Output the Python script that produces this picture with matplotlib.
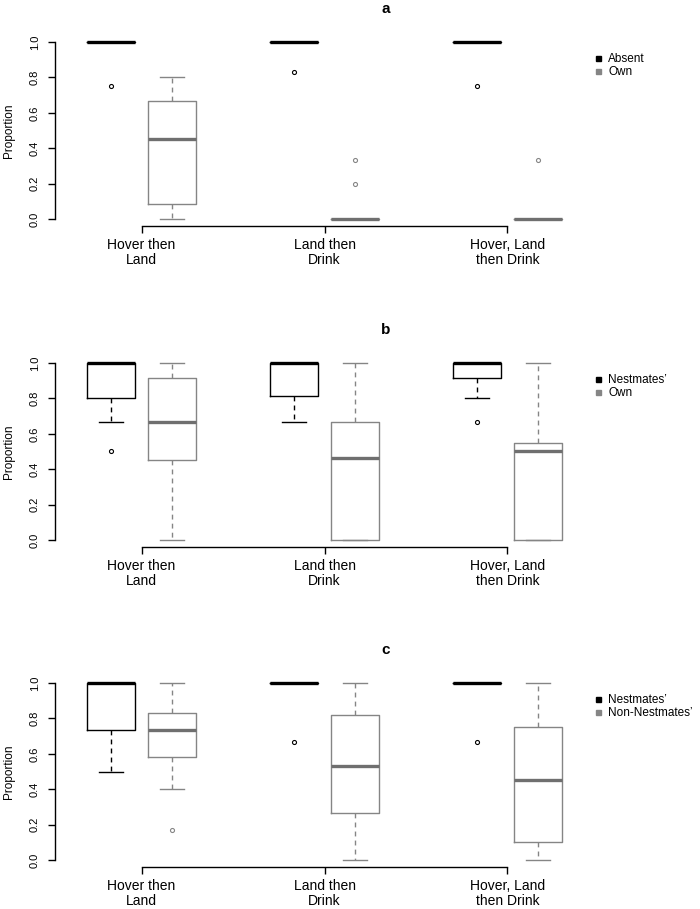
import matplotlib
matplotlib.use("Agg")
import matplotlib.pyplot as plt
from matplotlib.lines import Line2D

plt.rcParams['font.family'] = ['Liberation Sans', 'DejaVu Sans']

categories = ["Hover then\nLand", "Land then\nDrink", "Hover, Land\nthen Drink"]
panel_titles = ["a", "b", "c"]
series_names = [["Absent", "Own"], ["Nestmates\u2019", "Own"], ["Nestmates\u2019", "Non-Nestmates\u2019"]]

# box statistics per panel: for each series, per category: [whislo, q1, med, q3, whishi]
a_first = [[1.0, 1.0, 1.0, 1.0, 1.0], [1.0, 1.0, 1.0, 1.0, 1.0], [1.0, 1.0, 1.0, 1.0, 1.0]]
a_first_out = [[0.75], [0.833], [0.75]]
a_second = [[0.0, 0.083, 0.45, 0.667, 0.8], [0.0, 0.0, 0.0, 0.0, 0.0], [0.0, 0.0, 0.0, 0.0, 0.0]]
a_second_out = [[], [0.333, 0.2], [0.333]]

b_first = [[0.667, 0.8, 1.0, 1.0, 1.0], [0.667, 0.813, 1.0, 1.0, 1.0], [0.8, 0.917, 1.0, 1.0, 1.0]]
b_first_out = [[0.5], [], [0.667]]
b_second = [[0.0, 0.45, 0.667, 0.917, 1.0], [0.0, 0.0, 0.464, 0.667, 1.0], [0.0, 0.0, 0.5, 0.55, 1.0]]
b_second_out = [[], [], []]

c_first = [[0.5, 0.733, 1.0, 1.0, 1.0], [1.0, 1.0, 1.0, 1.0, 1.0], [1.0, 1.0, 1.0, 1.0, 1.0]]
c_first_out = [[], [0.667], [0.667]]
c_second = [[0.4, 0.583, 0.733, 0.833, 1.0], [0.0, 0.267, 0.533, 0.817, 1.0], [0.0, 0.1, 0.45, 0.75, 1.0]]
c_second_out = [[0.167], [], []]

panels = [
    (a_first, a_first_out, a_second, a_second_out),
    (b_first, b_first_out, b_second, b_second_out),
    (c_first, c_first_out, c_second, c_second_out),
]

first_pos = [1, 4, 7]
second_pos = [2, 5, 8]
group_ticks = [1.5, 4.5, 7.5]
yticks = [0.0, 0.2, 0.4, 0.6, 0.8, 1.0]

BLACK = "#000000"
GRAY = "#858585"
GRAY_MED = "#6f6f6f"

W, H = 700, 909
fig = plt.figure(figsize=(7, 9.09), dpi=100)

axes_bottom_px = [226, 547, 867]
ax_left_px, ax_w_px, ax_h_px = 55, 661, 191


def make_stats(rows, outs):
    res = []
    for r, o in zip(rows, outs):
        res.append(dict(whislo=r[0], q1=r[1], med=r[2], q3=r[3], whishi=r[4], fliers=o))
    return res


for k, (f_rows, f_out, s_rows, s_out) in enumerate(panels):
    bpx = axes_bottom_px[k]
    ax = fig.add_axes([ax_left_px / W, (H - bpx) / H, ax_w_px / W, ax_h_px / H])
    for rows, outs, pos, col, mcol in [(f_rows, f_out, first_pos, BLACK, BLACK),
                                        (s_rows, s_out, second_pos, GRAY, GRAY_MED)]:
        ax.bxp(make_stats(rows, outs), positions=pos, widths=0.8, capwidths=0.4,
               showfliers=True, patch_artist=False,
               boxprops=dict(color=col, linewidth=1.0),
               whiskerprops=dict(color=col, linewidth=1.0, linestyle=(0, (3.5, 3))),
               capprops=dict(color=col, linewidth=1.0),
               medianprops=dict(color=mcol, linewidth=2.4, solid_capstyle='butt'),
               flierprops=dict(marker='o', markersize=2.9, markerfacecolor='none',
                               markeredgecolor=col, markeredgewidth=0.8, linestyle='none'))
    ax.set_xlim(0.08, 10.92)
    ax.set_ylim(-0.04, 1.04)
    ax.spines['top'].set_visible(False)
    ax.spines['right'].set_visible(False)
    ax.spines['left'].set_bounds(0, 1)
    ax.spines['bottom'].set_bounds(group_ticks[0], group_ticks[-1])
    for sp in ('left', 'bottom'):
        ax.spines[sp].set_linewidth(1.0)
    ax.set_xticks(group_ticks)
    ax.set_xticklabels(categories, fontsize=10, linespacing=1.15)
    ax.set_yticks(yticks)
    ax.set_yticklabels([f"{v:.1f}" for v in yticks], fontsize=8, rotation=90, va='center')
    ax.tick_params(axis='both', length=5, width=1.0)
    ax.tick_params(axis='y', pad=6)
    ax.tick_params(axis='x', pad=3.5)
    ax.set_ylabel("Proportion", fontsize=8.5)
    ax.yaxis.set_label_coords(-0.061, 0.5)
    ax.set_title(panel_titles[k], fontsize=11, fontweight='bold', pad=16)
    handles = [Line2D([], [], marker='s', linestyle='', color=BLACK, markersize=3.6),
               Line2D([], [], marker='s', linestyle='', color=GRAY, markersize=3.6)]
    ax.legend(handles, series_names[k], loc='upper left', bbox_to_anchor=(0.8144, 0.905),
              frameon=False, fontsize=8.5, borderpad=0, borderaxespad=0,
              handlelength=0.8, handletextpad=0.45, labelspacing=0.1)

fig.savefig("out.png", dpi=100)
